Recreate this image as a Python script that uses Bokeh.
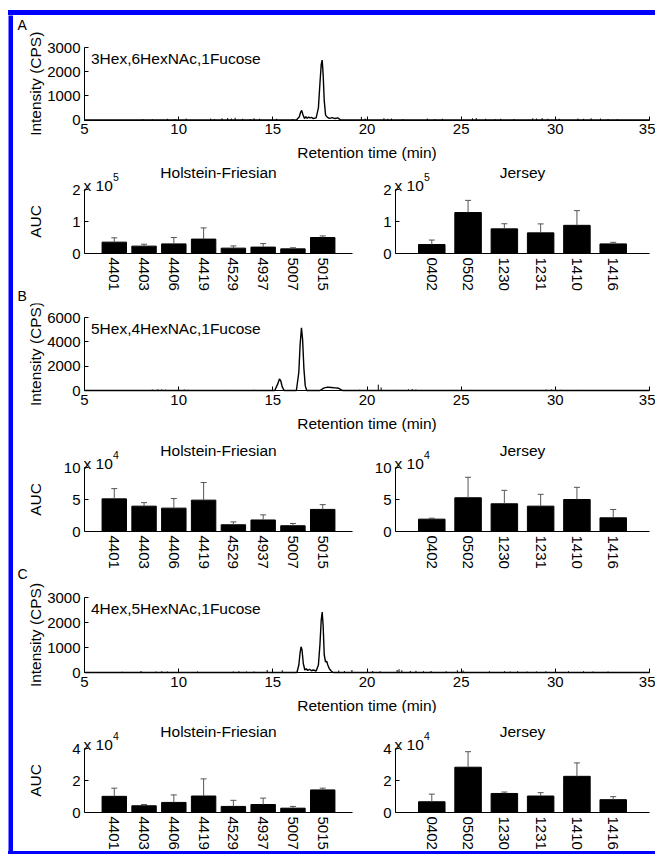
import math
from bokeh.plotting import figure
from bokeh.layouts import column, row
from bokeh.models import Range1d, FixedTicker, Label, Whisker, TeeHead, ColumnDataSource, Spacer
from bokeh.embed import file_html
from bokeh.resources import INLINE

FONT = "Liberation Sans"

# ---------------- data ----------------
CHROM_XTICKS = [5, 10, 15, 20, 25, 30, 35]

# Panel A: 3Hex,6HexNAc,1Fucose
A_glycan = "3Hex,6HexNAc,1Fucose"
A_t = [5.0, 16.25, 16.4, 16.48, 16.53, 16.6, 16.68, 16.75, 16.82, 16.9, 16.97, 17.05, 17.15, 17.3,
       17.42, 17.5, 17.57, 17.62, 17.67, 17.73, 17.8, 17.9, 18.0, 18.15, 18.3, 18.45, 18.6, 35.0]
A_i = [0, 0, 120, 330, 400, 220, 60, 140, 70, 120, 90, 110, 60, 90,
       500, 1500, 2300, 2480, 1900, 800, 200, 110, 70, 100, 60, 90, 0, 0]
A_spk_t = [8.1, 8.6, 9.4, 9.8, 10.4, 11.7, 11.9, 12.3, 12.6, 12.8, 13.0, 13.4, 13.8, 14.0, 14.3,
           15.2, 16.05, 19.7, 19.9, 20.9, 21.1, 21.3, 21.9, 23.2, 23.6, 24.0, 25.6, 25.8, 26.3,
           26.8, 27.1, 27.8, 28.8, 29.0, 29.3, 29.6, 30.2, 31.2, 31.5, 31.9, 32.4, 32.8, 33.3]
A_spk_i = [40, 30, 50, 40, 60, 60, 40, 70, 80, 60, 90, 50, 40, 70, 50,
           50, 40, 130, 60, 70, 50, 60, 40, 60, 40, 50, 70, 80, 50,
           40, 50, 40, 70, 60, 80, 50, 50, 60, 50, 70, 60, 40, 30]
A_yticks = [0, 1000, 2000, 3000]

# Panel B: 5Hex,4HexNAc,1Fucose
B_glycan = "5Hex,4HexNAc,1Fucose"
B_t = [5.0, 15.1, 15.25, 15.35, 15.42, 15.5, 15.6, 16.25, 16.38, 16.45, 16.52, 16.58, 16.65,
       16.72, 16.8, 17.5, 17.7, 17.9, 18.1, 18.3, 18.5, 18.7, 35.0]
B_i = [0, 0, 500, 950, 800, 300, 0, 0, 1500, 3800, 5150, 4200, 1800,
       400, 0, 0, 200, 280, 250, 220, 180, 0, 0]
B_spk_t = [8.6, 8.9, 9.1, 9.3, 10.3, 10.5, 12.5, 13.3, 14.0, 14.3, 19.6, 20.6, 20.75, 21.5,
           22.2, 22.4, 22.6, 23.5, 24.5, 25.5, 26.9, 28.5, 29.5, 29.8, 30.3, 31.2, 31.6, 33.0]
B_spk_i = [80, 100, 90, 70, 80, 60, 50, 40, 60, 40, 60, 480, 250, 50,
           100, 120, 80, 40, 50, 50, 40, 40, 70, 90, 60, 50, 40, 30]
B_yticks = [0, 2000, 4000, 6000]

# Panel C: 4Hex,5HexNAc,1Fucose
C_glycan = "4Hex,5HexNAc,1Fucose"
C_t = [5.0, 16.28, 16.38, 16.45, 16.5, 16.55, 16.62, 16.7, 16.78, 16.85, 16.95, 17.05, 17.15,
       17.3, 17.42, 17.5, 17.57, 17.62, 17.67, 17.73, 17.8, 17.86, 17.92, 18.0, 18.1, 18.2, 35.0]
C_i = [0, 0, 300, 800, 1030, 900, 350, 100, 150, 80, 130, 70, 100,
       60, 300, 1100, 2100, 2420, 1900, 700, 420, 450, 300, 150, 60, 0, 0]
C_spk_t = [7.0, 8.0, 8.8, 9.1, 9.4, 11.0, 12.9, 13.2, 13.6, 14.0, 14.7, 15.5, 18.5, 18.8, 19.2,
           20.3, 20.7, 21.6, 21.7, 21.85, 22.3, 22.6, 23.0, 23.4, 24.2, 24.8, 25.1, 26.5, 27.3,
           27.6, 28.0, 28.5, 29.0, 29.5, 30.7, 31.5, 32.0, 32.8]
C_spk_i = [30, 60, 40, 50, 40, 40, 40, 50, 40, 40, 100, 90, 80, 60, 100,
           60, 50, 100, 130, 90, 60, 70, 50, 60, 50, 90, 80, 50, 50,
           40, 50, 40, 40, 50, 50, 50, 40, 40]
C_yticks = [0, 1000, 2000, 3000]

# Bar charts (AUC, in units of 10^exp)
HF_cows = ["4401", "4403", "4406", "4419", "4529", "4937", "5007", "5015"]
JE_cows = ["0402", "0502", "1230", "1231", "1410", "1416"]

A_hf_auc = [0.355, 0.23, 0.30, 0.45, 0.167, 0.20, 0.145, 0.50]
A_hf_err = [0.135, 0.06, 0.20, 0.35, 0.07, 0.11, 0.035, 0.05]
A_je_auc = [0.28, 1.28, 0.77, 0.645, 0.88, 0.30]
A_je_err = [0.14, 0.38, 0.16, 0.28, 0.46, 0.05]
A_exp = "5"
A_bar_yticks = [0, 1, 2]

B_hf_auc = [5.1, 3.96, 3.65, 4.9, 1.05, 1.8, 0.9, 3.45]
B_hf_err = [1.6, 0.55, 1.5, 2.75, 0.45, 0.8, 0.35, 0.75]
B_je_auc = [1.93, 5.27, 4.33, 3.96, 5.0, 2.14]
B_je_err = [0.15, 3.2, 2.1, 1.85, 1.9, 1.3]
B_exp = "4"
B_bar_yticks = [0, 5, 10]

C_hf_auc = [1.01, 0.42, 0.63, 1.03, 0.38, 0.50, 0.27, 1.41]
C_hf_err = [0.51, 0.08, 0.47, 1.07, 0.38, 0.40, 0.11, 0.11]
C_je_auc = [0.67, 2.83, 1.19, 1.03, 2.26, 0.80]
C_je_err = [0.48, 0.97, 0.09, 0.21, 0.84, 0.19]
C_exp = "4"
C_bar_yticks = [0, 2, 4]

HF_title = "Holstein-Friesian"
JE_title = "Jersey"

# ---------------- layout geometry (page pixels) ----------------
LBL = "15.5px"
TICK = "15px"
BLUE = "#0000ff"
X0 = 13            # left edge of content (after margin + blue border)
CONTENT_W = 642
HF_W = 357         # Holstein-Friesian panel width
AX_L = 84          # left y-axis position
CHROM_R = 649      # right end of chromatogram x-axis
HF_R = 352         # right end of HF bar axis
JE_L, JE_R = 395, 649


def make_fig(width, fx0, ax_px0, ax_px1, xa0, xa1, fy0, fy1, ax_top, ax_bot, ya1):
    sx = (ax_px1 - ax_px0) / (xa1 - xa0)
    x_start = xa0 - (ax_px0 - fx0) / sx
    sy = (ax_bot - ax_top) / ya1
    y_start = -(fy1 - ax_bot) / sy
    y_end = ya1 + (ax_top - fy0) / sy
    p = figure(width=width, height=int(round(fy1 - fy0)), title=None,
               x_range=Range1d(x_start, x_start + width / sx), y_range=Range1d(y_start, y_end),
               min_border=0, min_border_left=0, min_border_right=0,
               min_border_top=0, min_border_bottom=0,
               output_backend="svg", toolbar_location=None)
    p.outline_line_color = None
    p.xgrid.visible = False
    p.ygrid.visible = False
    p.background_fill_color = "white"
    p.border_fill_color = "white"
    for ax in (p.xaxis[0], p.yaxis[0]):
        ax.axis_line_color = "black"
        ax.axis_line_width = 1
        ax.major_tick_line_color = "black"
        ax.major_tick_in = 4
        ax.major_tick_out = 0
        ax.minor_tick_in = 0
        ax.minor_tick_out = 0
        ax.major_label_text_font = FONT
        ax.major_label_text_font_size = TICK
        ax.major_label_text_color = "black"
        ax.major_label_standoff = 4
    p.xaxis[0].fixed_location = 0
    p.yaxis[0].fixed_location = xa0
    p.xaxis[0].bounds = (xa0, xa1)
    p.yaxis[0].bounds = (0, ya1)
    return p


def lab(p, x, y, text, size=LBL, align="left", baseline="middle", xo=0, yo=0, angle=0):
    p.add_layout(Label(x=x, y=y, text=text, text_font=FONT, text_font_size=size,
                       text_color="black", text_align=align, text_baseline=baseline,
                       x_offset=xo, y_offset=yo, angle=angle))


def chrom(t, inten, spk_t, spk_i, yticks, letter, glycan, fy0, fy1, ax_top, ax_bot):
    ymax = yticks[-1]
    xa0, xa1 = CHROM_XTICKS[0], CHROM_XTICKS[-1]
    p = make_fig(CONTENT_W, X0, AX_L, CHROM_R, xa0, xa1, fy0, fy1, ax_top, ax_bot, ymax)
    p.xaxis[0].ticker = FixedTicker(ticks=CHROM_XTICKS)
    p.yaxis[0].ticker = FixedTicker(ticks=yticks)
    p.line(t, inten, line_color="black", line_width=1.4)
    p.segment(x0=spk_t, y0=[0] * len(spk_t), x1=spk_t, y1=spk_i,
              line_color="black", line_width=1)
    if letter:
        lab(p, xa0, ymax, letter, size="14px", xo=-67, yo=23)
    lab(p, xa0, ymax, glycan, xo=6.5, yo=-10.5)
    lab(p, xa0, ymax / 2, "Intensity (CPS)", align="center", xo=-49, angle=math.pi / 2)
    lab(p, (xa0 + xa1) / 2, 0, "Retention time (min)", align="center", yo=-32.5)
    return p


def bars(cows, auc, err, yticks, exp, title, width, fx0, ax0, ax1, fy0, fy1, ax_top, ax_bot,
         bar_w, ylabel, next_letter):
    ymax = yticks[-1]
    n = len(cows)
    pos = list(range(1, n + 1))
    p = make_fig(width, fx0, ax0, ax1, 0, n + 1, fy0, fy1, ax_top, ax_bot, ymax)
    p.xaxis[0].ticker = FixedTicker(ticks=pos)
    p.xaxis[0].major_label_overrides = {k: c for k, c in zip(pos, cows)}
    p.xaxis[0].major_label_orientation = "vertical"
    p.yaxis[0].ticker = FixedTicker(ticks=yticks)
    p.vbar(x=pos, top=auc, width=bar_w, fill_color="black", line_color="black")
    src = ColumnDataSource(dict(x=pos, lower=auc, upper=[a + e for a, e in zip(auc, err)]))
    p.add_layout(Whisker(base="x", lower="lower", upper="upper", source=src,
                         dimension="height", line_color="#555555", line_width=1,
                         upper_head=TeeHead(size=6, line_color="#555555", line_width=1),
                         lower_head=None, level="overlay"))
    lab(p, 0, ymax, "x 10", baseline="alphabetic", xo=-1, yo=4)
    lab(p, 0, ymax, exp, size="10.5px", baseline="alphabetic", xo=28.5, yo=13)
    lab(p, (n + 1) / 2, ymax, title, align="center", yo=17.5)
    if ylabel:
        lab(p, 0, ymax / 2, "AUC", align="center", xo=-49, angle=math.pi / 2)
    if next_letter:
        lab(p, 0, 0, next_letter, size="14px", xo=-67, yo=-42)
    return p


def bar_row(hf_auc, hf_err, je_auc, je_err, yticks, exp, fy0, fy1, ax_top, ax_bot, next_letter):
    hf = bars(HF_cows, hf_auc, hf_err, yticks, exp, HF_title, HF_W, X0, AX_L, HF_R,
              fy0, fy1, ax_top, ax_bot, 0.82, True, next_letter)
    je = bars(JE_cows, je_auc, je_err, yticks, exp, JE_title, CONTENT_W - HF_W, X0 + HF_W,
              JE_L, JE_R, fy0, fy1, ax_top, ax_bot, 0.73, False, None)
    return row(hf, je, spacing=0)


figA = chrom(A_t, A_i, A_spk_t, A_spk_i, A_yticks, "A", A_glycan, 15, 161, 47, 119.5)
rowA = bar_row(A_hf_auc, A_hf_err, A_je_auc, A_je_err, A_bar_yticks, A_exp, 161, 303, 189, 253, "B")
figB = chrom(B_t, B_i, B_spk_t, B_spk_i, B_yticks, None, B_glycan, 303, 432, 317, 390)
rowB = bar_row(B_hf_auc, B_hf_err, B_je_auc, B_je_err, B_bar_yticks, B_exp, 432, 581, 467, 531, "C")
figC = chrom(C_t, C_i, C_spk_t, C_spk_i, C_yticks, None, C_glycan, 581, 713, 597, 672)
rowC = bar_row(C_hf_auc, C_hf_err, C_je_auc, C_je_err, C_bar_yticks, C_exp, 713, 851, 748, 812, None)

content = column(figA, rowA, figB, rowB, figC, rowC, spacing=0)
CONTENT_H = sum(f.height for f in (figA, figB, figC)) + sum(r.children[0].height for r in (rowA, rowB, rowC))


def vstrip(w, h):
    s = figure(width=w, height=h, title=None, x_axis_type=None, y_axis_type=None,
               min_border=0, toolbar_location=None, output_backend="svg")
    s.outline_line_color = None
    s.background_fill_color = BLUE
    s.border_fill_color = BLUE
    s.xgrid.visible = False
    s.ygrid.visible = False
    return s


def hstrip(w, h):
    return Spacer(width=w, height=h, styles={"background-color": BLUE})


framed = column(hstrip(CONTENT_W + 5, 5),
                row(vstrip(5, CONTENT_H), content, spacing=0),
                hstrip(CONTENT_W + 5, 3), spacing=0)
layout = column(Spacer(width=8 + CONTENT_W + 5, height=10),
                row(Spacer(width=8, height=CONTENT_H + 8), framed, spacing=0),
                spacing=0)

open("out.html", "w").write(file_html(layout, INLINE))
